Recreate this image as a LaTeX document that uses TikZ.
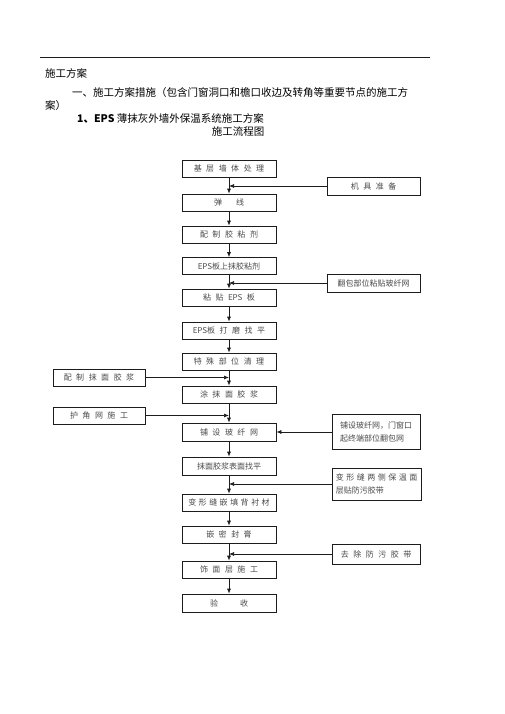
\documentclass[tikz,border=0pt]{standalone}
\usepackage{fontspec}
\newfontfamily\cjk{Noto Sans CJK SC}
\usetikzlibrary{arrows.meta,positioning,calc}
\definecolor{Ink}{HTML}{1C1C1C}
\definecolor{Soft}{HTML}{4A4A4A}
\newcommand\boxfont{\cjk\fontsize{8}{10}\selectfont\spaceskip=4.5pt\relax}
\newcommand\tightfont{\cjk\fontsize{8}{10}\selectfont\spaceskip=2.5pt\relax}
\newcommand\notefont{\cjk\fontsize{8}{13}\selectfont\spaceskip=2.5pt\relax}
\tikzset{
  >={Latex[length=5pt,width=4pt]},
  stepbox/.style={draw=Ink,line width=.7pt,minimum width=94pt,minimum height=17pt,inner sep=1pt,text=Soft,font=\boxfont},
  sidebox/.style={stepbox,minimum width=92pt},
  notebox/.style={stepbox,align=left,font=\notefont},
  flow/.style={->,line width=.7pt,draw=Ink},
  head/.style={font=\cjk\fontsize{10.5}{12}\selectfont,anchor=west,inner sep=0pt}
}
\begin{document}
\begin{tikzpicture}[x=1pt,y=-1pt]
  \useasboundingbox (0,0) rectangle (505,714);
  \draw[Ink,line width=.6pt] (40,57) -- (430,57);
  \node[head] (h1) at (45,73) {施工方案};
  \node[head] (h2) at (72,93) {一、施工方案措施（包含门窗洞口和檐口收边及转角等重要节点的施工方};
  \node[head] (h3) at (45,106) {案）};
  \node[head] (h4) at (77,118) {\textbf{1、EPS} 薄抹灰外墙外保温系统施工方案};
  \node[head,anchor=center] (h5) at (238,132) {施工流程图};
  % main column
  \node[stepbox] (s1) at (229,168.5) {基 层 墙 体 处 理};
  \node[stepbox] (s2) at (229,202.5) {弹\hspace{14pt}线};
  \node[stepbox] (s3) at (229,234.5) {配 制 胶 粘 剂};
  \node[stepbox] (s4) at (229,266) {EPS板上抹胶粘剂};
  \node[stepbox] (s5) at (229,297.5) {粘 贴 EPS 板};
  \node[stepbox] (s6) at (229,330.5) {EPS板 打 磨 找 平};
  \node[stepbox] (s7) at (229,361.5) {特 殊 部 位 清 理};
  \node[stepbox] (s8) at (229,394.5) {涂 抹 面 胶 浆};
  \node[stepbox,minimum height=18pt] (s9) at (229,432) {铺 设 玻 纤 网};
  \node[stepbox,minimum height=18pt] (s10) at (229,466) {抹面胶浆表面找平};
  \node[stepbox,font=\tightfont] (s11) at (229,502.5) {变 形 缝 嵌 填 背 衬 材};
  \node[stepbox] (s12) at (229,534.5) {嵌 密 封 膏};
  \node[stepbox] (s13) at (229,569.5) {饰 面 层 施 工};
  \node[stepbox,minimum height=18pt] (s14) at (229,603) {验\hspace{22pt}收};
  % side inputs
  \node[sidebox,minimum width=93pt,minimum height=18pt] (tools) at (373.5,186) {机 具 准 备};
  \node[sidebox,minimum width=93pt,minimum height=18pt] (wrap) at (373.5,283) {翻包部位粘贴玻纤网};
  \node[sidebox] (mortar) at (99,377.5) {配 制 抹 面 胶 浆};
  \node[sidebox] (corner) at (99,415.5) {护 角 网 施 工};
  \node[notebox,minimum width=88pt,minimum height=35pt] (mesh) at (376,432) {铺设玻纤网，门窗口\\起终端部位翻包网};
  \node[notebox,minimum width=89pt,minimum height=32pt] (joint) at (376.5,484) {变 形 缝 两 侧 保 温 面\\层贴防污胶带};
  \node[sidebox,minimum width=88pt,minimum height=20pt] (tape) at (376,554) {去 除 防 污 胶 带};
  \coordinate (k1) at (tools.west -| s1.south);
  \coordinate (k2) at (wrap.west -| s1.south);
  \coordinate (k3) at (mortar.east -| s1.south);
  \coordinate (k4) at (corner.east -| s1.south);
  \coordinate (k5) at (joint.west -| s1.south);
  \coordinate (k6) at (tape.west -| s1.south);
  \foreach \a/\b in {s1/s2,s2/s3,s3/s4,s4/s5,s5/s6,s6/s7,s7/s8,s8/s9,s9/s10,s10/s11,s11/s12,s12/s13,s13/s14}
    \draw[flow] (\a) -- (\b);
  \draw[flow] (tools) -- (k1);
  \draw[flow] (wrap) -- (k2);
  \draw[flow] (mortar) -- (k3);
  \draw[flow] (corner) -- (k4);
  \draw[flow] (mesh) -- (s9);
  \draw[flow] (joint) -- (k5);
  \draw[flow] (tape) -- (k6);
\end{tikzpicture}
\end{document}
